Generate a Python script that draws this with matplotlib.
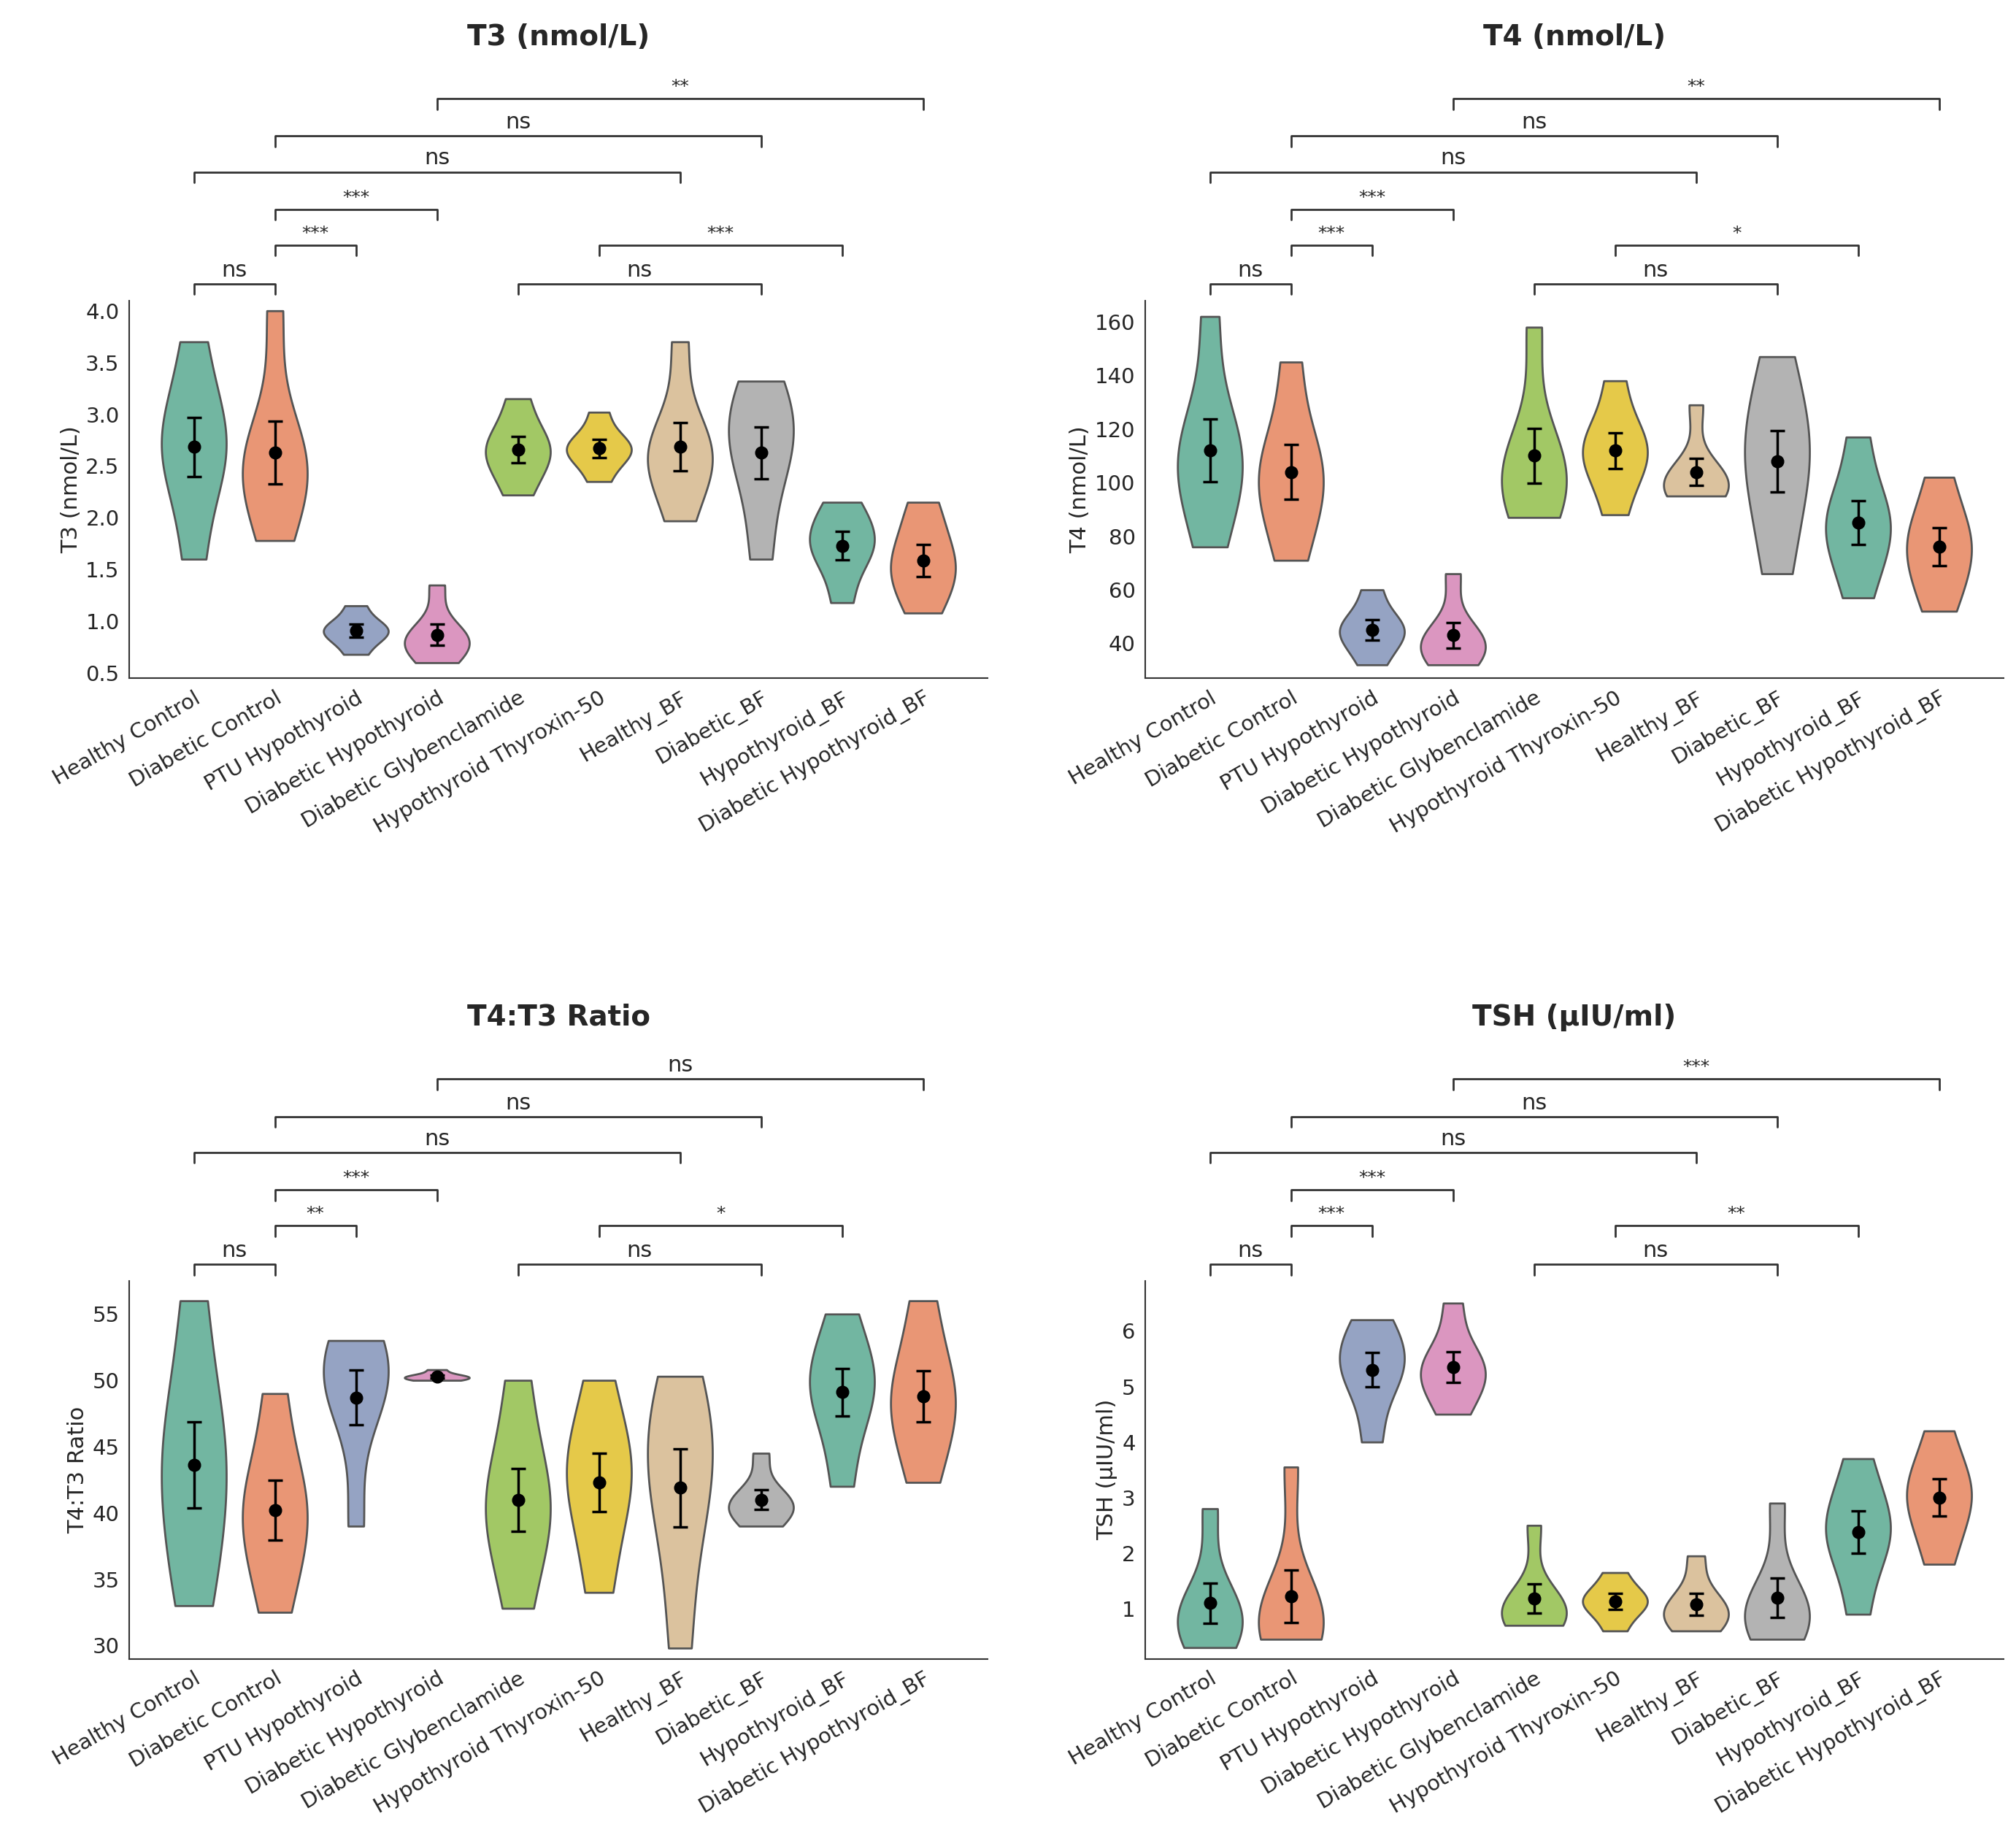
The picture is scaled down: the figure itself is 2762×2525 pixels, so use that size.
import numpy as np
import pandas as pd
import matplotlib
matplotlib.use("Agg")
import matplotlib.pyplot as plt
import seaborn as sns

groups = ["Healthy Control", "Diabetic Control", "PTU Hypothyroid", "Diabetic Hypothyroid",
          "Diabetic Glybenclamide", "Hypothyroid Thyroxin-50", "Healthy_BF", "Diabetic_BF",
          "Hypothyroid_BF", "Diabetic Hypothyroid_BF"]

t3 = [[1.6, 2.4, 2.6, 2.8, 3.0, 3.7], [1.78, 2.3, 2.5, 2.6, 2.6, 4.0],
      [0.68, 0.85, 0.9, 0.92, 0.95, 1.15], [0.6, 0.75, 0.8, 0.85, 0.87, 1.35],
      [2.22, 2.5, 2.6, 2.7, 2.8, 3.15], [2.35, 2.6, 2.65, 2.7, 2.7, 3.02],
      [1.97, 2.5, 2.6, 2.65, 2.7, 3.7], [1.6, 2.3, 2.7, 2.8, 3.05, 3.32],
      [1.18, 1.6, 1.7, 1.8, 1.95, 2.15], [1.08, 1.35, 1.5, 1.6, 1.85, 2.15]]
t4 = [[76, 98, 105, 115, 116, 162], [71, 90, 100, 105, 113, 145],
      [32, 40, 44, 47, 47, 60], [32, 36, 40, 42, 42, 66],
      [87, 95, 100, 110, 110, 158], [88, 105, 110, 115, 116, 138],
      [95, 98, 100, 102, 100, 129], [66, 90, 105, 115, 125, 147],
      [57, 75, 80, 88, 93, 117], [52, 65, 72, 80, 85, 102]]
ratio = [[33, 38, 42, 45, 47.6, 56], [32.5, 37, 39, 41, 42.7, 49],
         [39, 48, 49.2, 51, 52, 53], [50, 50.1, 50.2, 50.3, 50.4, 50.8],
         [32.8, 38, 40, 41, 44.2, 50], [34, 39, 42, 44, 44.8, 50],
         [29.8, 38, 42, 45, 46.3, 50.3], [39, 40, 40.5, 41, 41, 44.5],
         [42, 47, 49, 50.6, 51, 55], [42.3, 46, 48, 49, 51.5, 56]]
tsh = [[0.3, 0.6, 0.8, 0.9, 1.2, 2.8], [0.45, 0.6, 0.9, 1.0, 0.82, 3.55],
       [4.0, 5.0, 5.3, 5.5, 5.8, 6.2], [4.5, 5.0, 5.2, 5.4, 5.5, 6.5],
       [0.7, 0.9, 1.0, 1.0, 1.0, 2.5], [0.6, 1.0, 1.1, 1.15, 1.28, 1.65],
       [0.6, 0.8, 0.9, 1.0, 1.23, 1.95], [0.45, 0.7, 0.9, 1.0, 1.25, 2.9],
       [0.9, 2.0, 2.3, 2.5, 2.88, 3.7], [1.8, 2.5, 2.9, 3.2, 3.4, 4.2]]

# comparison pairs, bracket level
pairs = [(0, 1, 0), (4, 7, 0), (1, 2, 1), (5, 8, 1), (1, 3, 2), (0, 6, 3), (1, 7, 4), (3, 9, 5)]
stars = {
    "T3": ["ns", "ns", "***", "***", "***", "ns", "ns", "**"],
    "T4": ["ns", "ns", "***", "*", "***", "ns", "ns", "**"],
    "ratio": ["ns", "ns", "**", "*", "***", "ns", "ns", "ns"],
    "TSH": ["ns", "ns", "***", "**", "***", "ns", "ns", "***"],
}

panels = [
    ("T3 (nmol/L)", "T3 (nmol/L)", t3, stars["T3"], (0.45, 4.1), [0.5, 1.0, 1.5, 2.0, 2.5, 3.0, 3.5, 4.0]),
    ("T4 (nmol/L)", "T4 (nmol/L)", t4, stars["T4"], (27, 168), [40, 60, 80, 100, 120, 140, 160]),
    ("T4:T3 Ratio", "T4:T3 Ratio", ratio, stars["ratio"], (29, 57.5), [30, 35, 40, 45, 50, 55]),
    ("TSH (µIU/ml)", "TSH (µIU/ml)", tsh, stars["TSH"], (0.1, 6.9), [1, 2, 3, 4, 5, 6]),
]

sns.set_theme(style="white")
plt.rcParams["font.family"] = ["DejaVu Sans"]
fig = plt.figure(figsize=(27.62, 25.25), dpi=100)
positions = [(0.064, 0.632), (0.568, 0.632), (0.064, 0.100), (0.568, 0.100)]
palette = sns.color_palette("Set2", 8)
colors = [palette[i % 8] for i in range(10)]
levels = [1.044, 1.146, 1.241, 1.34, 1.435, 1.534]

for (title, ylab, data, labs, ylim, yticks), (x0, y0) in zip(panels, positions):
    ax = fig.add_axes([x0, y0, 0.426, 0.205])
    df = pd.DataFrame([(groups[i], v) for i, vals in enumerate(data) for v in vals],
                      columns=["group", "value"])
    sns.violinplot(data=df, x="group", y="value", hue="group", order=groups, hue_order=groups,
                   palette=colors, inner=None, cut=0, linewidth=2, linecolor="#555555",
                   legend=False, ax=ax)
    means = [np.mean(v) for v in data]
    sems = [np.std(v, ddof=1) / np.sqrt(len(v)) for v in data]
    ax.errorbar(range(10), means, yerr=sems, fmt="o", color="black", ms=12,
                capsize=7, elinewidth=2.5, capthick=2.5, zorder=5)
    ax.set_ylim(*ylim)
    ax.set_yticks(yticks)
    ax.set_xlim(-0.8, 9.8)
    ax.set_xlabel("")
    ax.set_ylabel(ylab, fontsize=22)
    ax.tick_params(axis="y", labelsize=21)
    ax.set_xticks(range(10))
    ax.set_xticklabels(groups, rotation=30, ha="right", fontsize=21, rotation_mode="anchor")
    sns.despine(ax=ax)
    for s in ["left", "bottom"]:
        ax.spines[s].set_color("#333333")
        ax.spines[s].set_linewidth(1.5)
    ax.set_title(title, fontsize=28, fontweight="bold", y=1.66)
    tr = ax.get_xaxis_transform()
    for (a, b, lv), lab in zip(pairs, labs):
        h = levels[lv]
        ax.plot([a, a, b, b], [h - 0.028, h, h, b * 0 + h - 0.028][:4] if False else [h - 0.028, h, h, h - 0.028],
                color="#333333", lw=2, transform=tr, clip_on=False)
        ax.text((a + b) / 2, h + 0.008, lab, ha="center", va="bottom", fontsize=22 if lab == "ns" else 18,
                transform=tr)

fig.savefig("out.png", dpi=100)
